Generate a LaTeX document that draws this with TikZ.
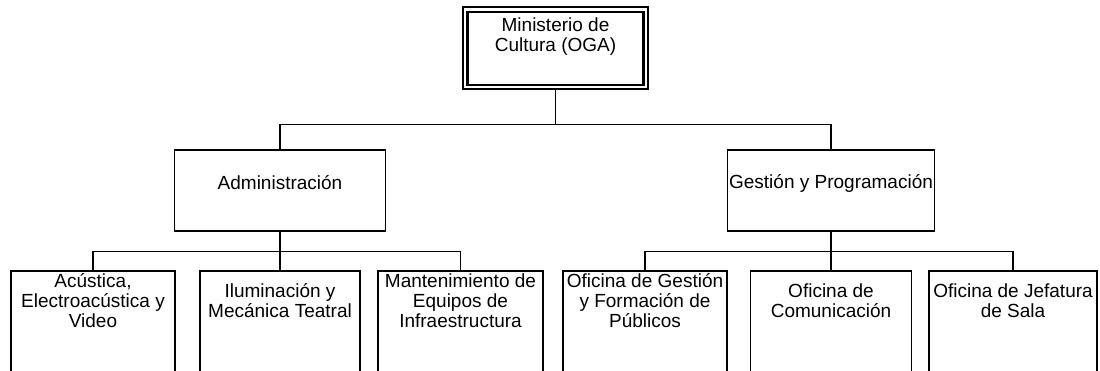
\documentclass[tikz,border=0pt]{standalone}
\usepackage{fontspec}
\setmainfont{Liberation Sans}
\begin{document}
\begin{tikzpicture}[x=1pt,y=-1pt,
  box/.style={draw, line width=1.4pt, inner sep=0pt, rectangle},
  txt/.style={font=\fontsize{19}{20}\selectfont, align=center, inner sep=0pt},
  conn/.style={line width=1.4pt}]
\clip (0,0) rectangle (1100,370);
% top
\node[box, line width=1.1pt, minimum width=185pt, minimum height=82pt] (min) at (555.5,48) {};
\node[box, line width=2.2pt, minimum width=176pt, minimum height=73pt] (mini) at (555.5,48.5) {};
\node[txt] (mint) at (555.5,37) {Ministerio de\\Cultura (OGA)};
% middle
\node[box, minimum width=211pt, minimum height=81pt] (adm) at (280,190.5) {};
\node[txt] (admt) at (280,183) {Administración};
\node[box, minimum width=207pt, minimum height=81pt] (ges) at (831,190.5) {};
\node[txt] (gest) at (831,183) {Gestión y Programación};
% bottom
\node[box, minimum width=164pt, minimum height=149pt] (b1) at (93,345.5) {};
\node[box, minimum width=160pt, minimum height=149pt] (b2) at (280,345.5) {};
\node[box, minimum width=165pt, minimum height=149pt] (b3) at (460.5,345.5) {};
\node[box, minimum width=164pt, minimum height=149pt] (b4) at (645,345.5) {};
\node[box, minimum width=161pt, minimum height=149pt] (b5) at (831,345.5) {};
\node[box, minimum width=168pt, minimum height=149pt] (b6) at (1013,345.5) {};
\node[txt] (b1t) at (93,301) {Acústica,\\Electroacústica y\\Video};
\node[txt] (b2t) at (280,301) {Iluminación y\\Mecánica Teatral};
\node[txt] (b3t) at (460.5,301) {Mantenimiento de\\Equipos de\\Infraestructura};
\node[txt] (b4t) at (645,301) {Oficina de Gestión\\y Formación de\\Públicos};
\node[txt] (b5t) at (831,301) {Oficina de\\Comunicación};
\node[txt] (b6t) at (1013,301) {Oficina de Jefatura\\de Sala};
% connectors
\draw[conn] (min.south) -- ++(0,35) coordinate (j0);
\draw[conn] (j0) -| (adm.north);
\draw[conn] (j0) -| (ges.north);
\draw[conn] (adm.south) -- ++(0,20) coordinate (j1);
\draw[conn] (j1) -| (b1.north);
\draw[conn] (j1) -- (b2.north);
\draw[conn] (j1) -| (b3.north);
\draw[conn] (ges.south) -- ++(0,20) coordinate (j2);
\draw[conn] (j2) -| (b4.north);
\draw[conn] (j2) -- (b5.north);
\draw[conn] (j2) -| (b6.north);
\end{tikzpicture}
\end{document}
